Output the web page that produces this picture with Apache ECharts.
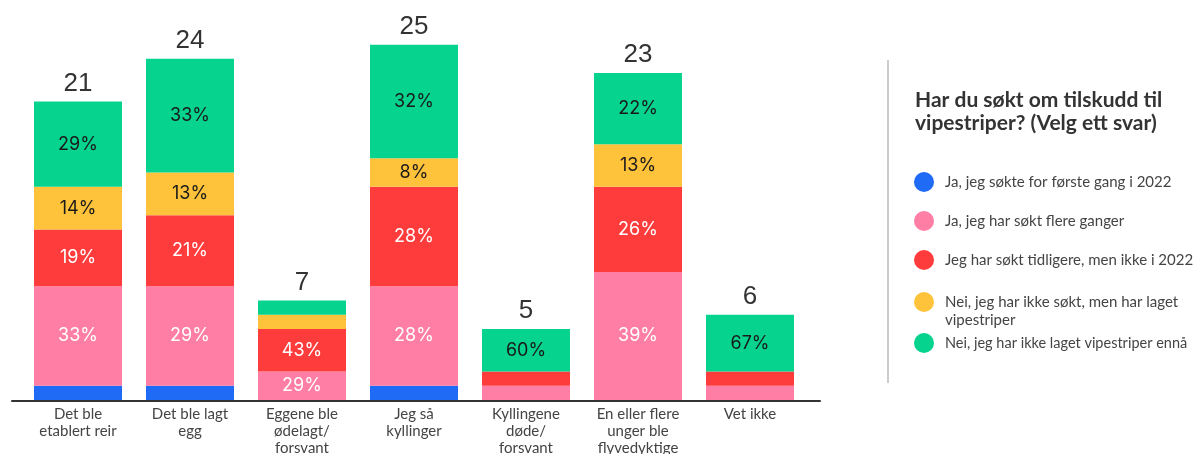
<!DOCTYPE html>
<html><head><meta charset="utf-8">
<script src="https://cdn.jsdelivr.net/npm/echarts@6/dist/echarts.min.js"></script>
<style>html,body{margin:0;padding:0;background:#fff}#c{width:1194px;height:454px}</style>
</head><body><div id="c"></div>
<script>
const categories = ['Det ble\netablert reir', 'Det ble lagt\negg', 'Eggene ble\nødelagt/\nforsvant', 'Jeg så\nkyllinger', 'Kyllingene\ndøde/\nforsvant', 'En eller flere\nunger ble\nflyvedyktige', 'Vet ikke'];
const seriesNames = ['Ja, jeg søkte for første gang i 2022', 'Ja, jeg har søkt flere ganger', 'Jeg har søkt tidligere, men ikke i 2022', 'Nei, jeg har ikke søkt, men har laget\nvipestriper', 'Nei, jeg har ikke laget vipestriper ennå'];
const firstTime = [1, 1, 0, 1, 0, 0, 0];
const severalTimes = [7, 7, 2, 7, 1, 9, 1];
const earlierNot2022 = [4, 5, 3, 7, 1, 6, 1];
const notAppliedButMade = [3, 3, 1, 2, 0, 3, 0];
const notMadeYet = [6, 8, 1, 8, 3, 5, 4];
const legendTitle = 'Har du søkt om tilskudd til\nvipestriper? (Velg ett svar)';

const values = [firstTime, severalTimes, earlierNot2022, notAppliedButMade, notMadeYet];
const colors = ['#1f6bf5', '#fe7ea6', '#fe3c3c', '#fec23b', '#05d38e'];
const labelColors = ['#ffffff', '#ffffff', '#ffffff', '#1a1a1a', '#1a1a1a'];
const totals = categories.map((_, i) => values.reduce((s, a) => s + a[i], 0));

const chart = echarts.init(document.getElementById('c'), null, {renderer: 'canvas'});
const FONT = 'Lato, "Open Sans", sans-serif';

const series = values.map((arr, k) => ({
  name: seriesNames[k],
  type: 'bar',
  stack: 's',
  xAxisIndex: 0, yAxisIndex: 0,
  barWidth: 88,
  data: arr,
  itemStyle: {color: colors[k]},
  label: {
    show: true,
    position: 'inside',
    fontFamily: 'Inter, sans-serif',
    fontSize: 18,
    color: labelColors[k],
    formatter: p => p.value >= 2 ? Math.round(p.value / totals[p.dataIndex] * 100) + '%' : ''
  }
}));
series.push({
  name: 'total', type: 'bar', stack: 's', barWidth: 88,
  xAxisIndex: 0, yAxisIndex: 0,
  data: categories.map(() => 0),
  itemStyle: {color: 'transparent'},
  label: {show: true, position: 'top', distance: 5, fontFamily: '"Liberation Sans", Arial, sans-serif', fontSize: 26, color: '#333',
    formatter: p => String(totals[p.dataIndex])}
});

const legendText = {fontFamily: FONT, fontSize: 15, color: '#444', lineHeight: 18};

chart.setOption({
  animation: false,
  title: {
    text: legendTitle, left: 915, top: 89, padding: 0,
    textStyle: {fontFamily: FONT, fontSize: 21, fontWeight: 'bold', color: '#333', lineHeight: 23}
  },
  legend: [
    {
      data: seriesNames.slice(0, 3),
      orient: 'vertical', left: 914, top: 172, padding: 0,
      icon: 'circle', itemWidth: 20, itemHeight: 20, itemGap: 19,
      selectedMode: false,
      textStyle: Object.assign({padding: [0, 0, 0, 6]}, legendText)
    },
    {
      data: [seriesNames[3]],
      orient: 'vertical', left: 914, top: 292, padding: 0,
      icon: 'circle', itemWidth: 20, itemHeight: 20,
      selectedMode: false,
      formatter: name => name.split('\n').map(s => '{a|' + s + '}').join('\n'),
      textStyle: {padding: [0, 0, -18, 6], rich: {a: legendText}}
    },
    {
      data: [seriesNames[4]],
      orient: 'vertical', left: 914, top: 333, padding: 0,
      icon: 'circle', itemWidth: 20, itemHeight: 20,
      selectedMode: false,
      textStyle: Object.assign({padding: [0, 0, 0, 6]}, legendText, {fontSize: 14.5})
    }
  ],
  grid: [
    {left: 22, right: 388, top: 2, bottom: 54, containLabel: false, outerBoundsMode: 'none'},
    {left: 12, right: 374, top: 2, bottom: 53, containLabel: false, outerBoundsMode: 'none'}
  ],
  xAxis: [
    {type: 'category', gridIndex: 0, data: categories,
      axisLine: {show: false}, axisTick: {show: false},
      axisLabel: {interval: 0, margin: 6, fontFamily: FONT, fontSize: 15, color: '#444', lineHeight: 17}},
    {type: 'value', gridIndex: 1, min: 0, max: 1, show: true,
      axisLine: {show: true, onZero: false, lineStyle: {color: '#333', width: 2}},
      axisTick: {show: false}, axisLabel: {show: false}, splitLine: {show: false}}
  ],
  yAxis: [
    {type: 'value', gridIndex: 0, min: 0, max: 28, show: false},
    {type: 'value', gridIndex: 1, min: 0, max: 1, show: false}
  ],
  graphic: [{
    type: 'line', shape: {x1: 888, y1: 60, x2: 888, y2: 383},
    style: {stroke: '#cccccc', lineWidth: 2}
  }],
  series: series
});
</script>
</body></html>
